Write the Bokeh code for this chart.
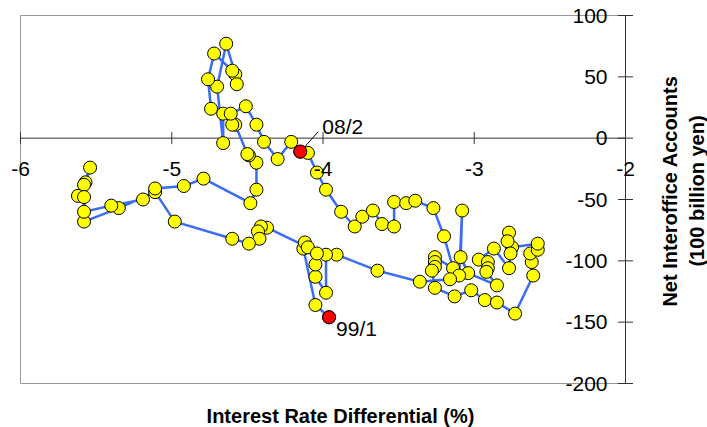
import numpy as np
from bokeh.plotting import figure
from bokeh.models import Range1d, Label
from bokeh.embed import file_html
from bokeh.resources import INLINE

# Interest rate differential (%) - path order
rate_diff = [
    -3.96, -4.05, -4.13, -4.12, -4.10, -4.37, -4.41, -4.43, -4.42,
    -4.49, -4.60, -4.98, -5.11, -5.35, -5.58, -5.57, -5.54, -5.58,
    -5.62, -5.58, -5.58, -5.40, -5.19, -5.11, -4.92, -4.79,
    -4.48, -4.44, -4.44, -4.49, -4.50, -4.58, -4.60, -4.66, -4.66,
    -4.70, -4.64, -4.58, -4.57, -4.60, -4.72, -4.76, -4.74, -4.61,
    -4.51, -4.44, -4.39, -4.30, -4.21, -4.15, -4.10,
    -4.04, -3.98, -3.88, -3.79, -3.74, -3.67, -3.61, -3.53, -3.53,
    -3.45, -3.39, -3.27, -3.20,
    -3.14, -3.26, -3.26, -3.26, -3.28, -3.26, -3.13, -3.02, -2.93,
    -2.85, -2.73, -2.61, -2.62, -2.63, -2.58, -2.58, -2.75, -2.77,
    -2.78, -2.76, -2.77, -2.87, -2.97, -2.91, -2.91, -2.92, -2.85,
    -3.04, -3.09, -3.08, -3.10, -3.16, -3.36,
    -3.64, -3.91, -3.98, -3.98, -4.05, -4.05, -4.04,
]
# Net interoffice accounts (100 billion yen)
net_accounts = [
    -146, -136, -90, -85, -89, -73, -72, -76, -82,
    -86, -82, -68, -44, -57, -68, -36, -24, -38,
    -47, -48, -60, -55, -50, -41, -39, -33,
    -53, -42, -20, -14, -13, 11, 11, 20, -4,
    42, 77, 52, 44, 55, 69, 48, 24, 20,
    26, 11, -3, -17, -3, -11, -12,
    -28, -42, -60, -72, -64, -59, -70, -72, -52,
    -53, -51, -57, -80,
    -106, -97, -101, -105, -108, -122, -129, -124, -132,
    -134, -143, -112, -101, -94, -91, -86, -89, -77,
    -84, -94, -106, -90, -99, -101, -106, -109, -120,
    -110, -97, -59, -112, -115, -117,
    -108, -95, -95, -126, -113, -103, -94,
]

hi_x = [-4.15, -3.96]
hi_y = [-11, -146]
hi_text = ["08/2", "99/1"]

x_ticks = [-6, -5, -4, -3, -2]
x_tick_labels = ["-6", "-5", "-4", "-3", "-2"]
y_ticks = [100, 50, 0, -50, -100, -150, -200]
y_tick_labels = ["100", "50", "0", "-50", "-100", "-150", "-200"]

x_title = "Interest Rate Differential (%)"
y_title = ["Net Interoffice Accounts", "(100 billion yen)"]

FONT = "Liberation Sans"
AX = "#333333"
W, H = 707, 427
ML, MR, MT, MB = 20, 82, 15, 44           # plot box margins in pixels
XMIN, XMAX, YMIN, YMAX = x_ticks[0], x_ticks[-1], y_ticks[-1], y_ticks[0]
ppx = (W - ML - MR) / (XMAX - XMIN)
ppy = (H - MT - MB) / (YMAX - YMIN)

p = figure(width=W, height=H,
           x_range=Range1d(XMIN - ML / ppx, XMAX + MR / ppx),
           y_range=Range1d(YMIN - MB / ppy, YMAX + MT / ppy),
           output_backend="svg", toolbar_location=None,
           x_axis_location=None, y_axis_location=None,
           min_border=0)
p.grid.visible = False
p.outline_line_color = None
p.background_fill_color = "white"
p.border_fill_color = "white"

# plot box
p.quad(left=[XMIN], right=[XMAX], bottom=[YMIN], top=[YMAX], fill_color=None,
       line_color="#999999", line_width=1)

# y axis on the right edge of the box
p.line(x=[XMAX, XMAX], y=[YMIN, YMAX], line_color=AX, line_width=1)
p.scatter(x=[XMAX] * len(y_ticks), y=y_ticks, marker="dash", size=15,
          line_color=AX, line_width=1)

# x axis at y=0
p.line(x=[XMIN, XMAX], y=[0, 0], line_color=AX, line_width=1)
p.scatter(x=x_ticks, y=[0] * len(x_ticks), marker="dash", angle=np.pi / 2, size=12,
          line_color=AX, line_width=1)

for t, s in zip(x_ticks, x_tick_labels):
    p.add_layout(Label(x=t, y=0, text=s, text_align="center", text_baseline="middle",
                       y_offset=-31, text_font=FONT, text_font_size="21px", text_color="black"))
for t, s in zip(y_ticks, y_tick_labels):
    p.add_layout(Label(x=XMAX, y=t, text=s, text_align="right", text_baseline="middle",
                       x_offset=-18, text_font=FONT, text_font_size="21px", text_color="black"))

# leader line for 08/2
p.segment(x0=[hi_x[0]], y0=[hi_y[0]], x1=[hi_x[0] + 18 / ppx], y1=[hi_y[0] + 20 / ppy],
          line_color="black", line_width=1)

p.line(rate_diff, net_accounts, line_color="#3A6CF4", line_width=2.5)
p.scatter(rate_diff, net_accounts, size=13, fill_color="#FFFF00", line_color="black", line_width=1)
p.scatter(hi_x, hi_y, size=13, fill_color="#FF0000", line_color="black", line_width=1)

p.add_layout(Label(x=hi_x[0], y=hi_y[0], text=hi_text[0], x_offset=22, y_offset=25,
                   text_align="left", text_baseline="middle", text_font=FONT,
                   text_font_size="21px", text_color="black"))
p.add_layout(Label(x=hi_x[1], y=hi_y[1], text=hi_text[1], x_offset=7, y_offset=-11,
                   text_align="left", text_baseline="middle", text_font=FONT,
                   text_font_size="21px", text_color="black"))

# titles
p.add_layout(Label(x=XMIN + (340 - ML) / ppx, y=YMIN, text=x_title, y_offset=-32,
                   text_align="center", text_baseline="middle", text_font=FONT,
                   text_font_size="20px", text_font_style="bold", text_color="black"))
y_mid = YMAX - (190.5 - MT) / ppy
p.add_layout(Label(x=XMAX, y=y_mid, text=y_title[0], x_offset=44, angle=np.pi / 2,
                   text_align="center", text_baseline="middle", text_font=FONT,
                   text_font_size="20px", text_font_style="bold", text_color="black"))
p.add_layout(Label(x=XMAX, y=y_mid, text=y_title[1], x_offset=71, angle=np.pi / 2,
                   text_align="center", text_baseline="middle", text_font=FONT,
                   text_font_size="20px", text_font_style="bold", text_color="black"))

open("out.html", "w").write(file_html(p, INLINE))
